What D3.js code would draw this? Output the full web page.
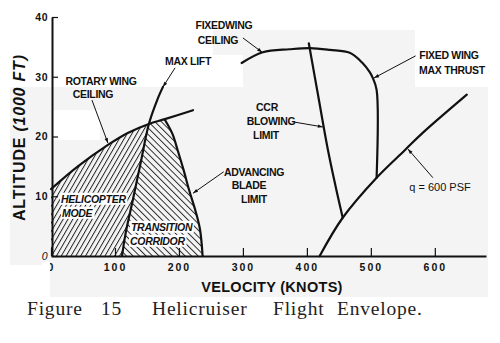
<!DOCTYPE html>
<html><head><meta charset="utf-8">
<script src="https://cdn.jsdelivr.net/npm/d3@7"></script>
<style>
html,body{margin:0;padding:0;background:#fff;}
svg{display:block;}
.lbl{font-family:"Liberation Sans",Arial,sans-serif;font-weight:bold;font-size:10.5px;letter-spacing:-0.3px;fill:#111;}
</style></head>
<body>
<svg id="c" width="500" height="343"></svg>
<script>
// ---- data (velocity in knots, altitude in 1000 ft) ----
const velTicks = [0,100,200,300,400,500,600];
const altTicks = [0,10,20,30,40];
const rotaryV   = [0,42,89,120,153,178,222];
const rotaryAlt = [11.2,15.0,18.6,20.6,22.1,22.9,24.4];
const maxLiftV   = [111,117,128,140,153,166,175];
const maxLiftAlt = [0,4,9.4,15.5,22.1,26.1,28.3];
const bladeV   = [178,190,198,207,216,226,233,237];
const bladeAlt = [22.8,20.4,17.7,14.5,11,7.5,4.4,0];
const fixedV   = [298,331,373,405,436,467,487,498,503,509,509];
const fixedAlt = [32.3,34.1,34.6,34.8,34.5,34.0,32.3,30.8,29.8,27.8,13.1];
const ccrV   = [403,418,433,445,456];
const ccrAlt = [35.6,26.6,17.7,11.6,6.4];
const qV   = [420,456,509,553,581,650];
const qAlt = [0,6.4,13.1,17.7,20.6,27];

const svg = d3.select("#c");
const x = d3.scaleLinear().domain([0,680]).range([51,486]);
const y = d3.scaleLinear().domain([0,40]).range([256,17]);
const pts = (vs, as) => vs.map((v,i)=>[v, as[i]]);
const line = d3.line().x(d=>x(d[0])).y(d=>y(d[1])).curve(d3.curveCatmullRom.alpha(0.5));

// ---- scanned-paper background tones ----
const G = "#f4f4f4";
const bg = svg.append("g");
bg.append("rect").attr("x",50).attr("y",87).attr("width",438).attr("height",210).attr("fill",G);
bg.append("rect").attr("x",10).attr("y",87).attr("width",40).attr("height",178).attr("fill",G);
bg.append("rect").attr("x",213).attr("y",30).attr("width",202).attr("height",57).attr("fill",G);
bg.append("rect").attr("x",213).attr("y",55).attr("width",30).attr("height",32).attr("fill","#fff");
bg.append("rect").attr("x",53).attr("y",110).attr("width",47).attr("height",30).attr("fill","#fff");

// ---- patterns & markers ----
const defs = svg.append("defs");
const pA = defs.append("pattern").attr("id","hatchA").attr("patternUnits","userSpaceOnUse")
  .attr("width",4.2).attr("height",10).attr("patternTransform","rotate(30)");
pA.append("line").attr("x1",0.5).attr("x2",0.5).attr("y1",0).attr("y2",10).attr("stroke","#111").attr("stroke-width",0.9);
const pB = defs.append("pattern").attr("id","hatchB").attr("patternUnits","userSpaceOnUse")
  .attr("width",4.6).attr("height",10).attr("patternTransform","rotate(-45)");
pB.append("line").attr("x1",0.5).attr("x2",0.5).attr("y1",0).attr("y2",10).attr("stroke","#111").attr("stroke-width",0.9);
defs.append("marker").attr("id","arr").attr("viewBox","0 0 10 10").attr("refX",10).attr("refY",5)
  .attr("markerWidth",7).attr("markerHeight",5).attr("orient","auto").attr("markerUnits","userSpaceOnUse")
  .append("path").attr("d","M0,1.5L10,5L0,8.5Z").attr("fill","#111");

// ---- hatched regions ----
const rotary = pts(rotaryV, rotaryAlt);
const maxLift = pts(maxLiftV, maxLiftAlt);
const blade = pts(bladeV, bladeAlt);
const rotLow = rotary.filter(d=>d[0]<=153);
const rotMid = rotary.filter(d=>d[0]>=153 && d[0]<=178);
const liftLow = maxLift.filter(d=>d[0]<=153);
const join = (...segs) => segs.map((s,i)=> i===0 ? s : s.replace(/^M/,"L")).join("") + "Z";
const heliPath = join(`M${x(0)},${y(0)}`, line(rotLow), line(liftLow.slice().reverse()));
const corrPath = join(line(liftLow), line(rotMid), line(blade));
svg.append("path").attr("d",heliPath).attr("fill","url(#hatchA)");
svg.append("path").attr("d",corrPath).attr("fill","url(#hatchB)");

// ---- curves ----
const curves = [rotary, maxLift, blade, pts(fixedV,fixedAlt), pts(ccrV,ccrAlt), pts(qV,qAlt)];
svg.append("g").selectAll("path").data(curves).join("path")
  .attr("d",line).attr("fill","none").attr("stroke","#111").attr("stroke-width",2.2)
  .attr("stroke-linejoin","round").attr("stroke-linecap","round");

// ---- axes ----
const xAxis = svg.append("g").attr("transform",`translate(0,${y(0)})`)
  .call(d3.axisBottom(x).tickValues(velTicks).tickSize(-8).tickSizeOuter(0).tickPadding(8));
xAxis.select(".domain").attr("stroke","#111").attr("stroke-width",2);
xAxis.selectAll(".tick line").attr("stroke","#111").attr("stroke-width",1.2);
xAxis.selectAll(".tick text").attr("font-family","Liberation Sans, Arial, sans-serif")
  .attr("font-weight","bold").attr("font-size",10.5).attr("letter-spacing","2px").attr("fill","#111");
const yAxis = svg.append("g").attr("transform",`translate(${x(0)+1},0)`)
  .call(d3.axisLeft(y).tickValues(altTicks).tickSize(-6).tickSizeOuter(0).tickPadding(4));
yAxis.select(".domain").attr("stroke","#111").attr("stroke-width",2);
yAxis.selectAll(".tick line").attr("stroke","#111").attr("stroke-width",1.2);
yAxis.selectAll(".tick text").attr("font-family","Liberation Sans, Arial, sans-serif")
  .attr("font-size",10.5).attr("letter-spacing","0.5px").attr("fill","#111")
  .attr("font-style",d=>d===0?"italic":"normal").attr("font-weight",d=>d===0?"normal":"bold");
// scan clipped the x-origin label's left half
svg.append("rect").attr("x",42).attr("y",262).attr("width",8).attr("height",14).attr("fill","#fff");

// axis titles
svg.append("text").attr("x",272).attr("y",292).attr("text-anchor","middle")
  .attr("font-family","Liberation Sans, Arial, sans-serif").attr("font-weight","bold")
  .attr("font-size",14.5).attr("letter-spacing","0.3px").attr("fill","#111").text("VELOCITY  (KNOTS)");
const yt = svg.append("text").attr("transform","translate(19,138) rotate(-90)").attr("text-anchor","middle")
  .attr("dy","0.36em").attr("font-family","Liberation Sans, Arial, sans-serif").attr("font-weight","bold")
  .attr("font-size",16).attr("fill","#111").attr("textLength",166).attr("lengthAdjust","spacing");
yt.append("tspan").text("ALTITUDE ");
yt.append("tspan").attr("font-style","italic").text("(1000 FT)");

// ---- annotations ----
const labels = [
  {t:["FIXEDWING","CEILING"], x:[224,218], y:[25,40]},
  {t:["MAX LIFT"], x:[188], y:[61]},
  {t:["ROTARY WING","CEILING"], x:[101,93], y:[81,94]},
  {t:["FIXED WING","MAX THRUST"], x:[449,452], y:[55,70]},
  {t:["CCR","BLOWING","LIMIT"], x:[267,271,266], y:[107,121,135]},
  {t:["ADVANCING","BLADE","LIMIT"], x:[254,249,254], y:[172,185,199]},
];
labels.forEach(l=>l.t.forEach((s,i)=>{
  svg.append("text").attr("class","lbl").attr("x",l.x[i]).attr("y",l.y[i]).attr("dy","0.36em")
    .attr("text-anchor","middle").text(s);
}));
svg.append("text").attr("x",440).attr("y",187).attr("dy","0.36em").attr("text-anchor","middle")
  .attr("font-family","Liberation Sans, Arial, sans-serif").attr("font-size",11).attr("fill","#111").text("q = 600 PSF");

// labels inside hatched regions (white behind)
const inner = [
  {s:"HELICOPTER", x:61, y:199},{s:"MODE", x:62, y:213},
  {s:"TRANSITION", x:131, y:227},{s:"CORRIDOR", x:130, y:241}];
inner.forEach(d=>{
  const t = svg.append("text").attr("class","lbl").attr("x",d.x).attr("y",d.y).attr("dy","0.36em")
    .attr("font-style","italic").text(d.s);
  const b = t.node().getBBox();
  svg.insert("rect", () => t.node()).attr("x",b.x-1).attr("y",b.y).attr("width",b.width+2).attr("height",b.height).attr("fill","#fff");
});

// leader lines (data coordinates) with arrowheads
const leaders = [
  [[64,26.1],[89,18.9]], [[194,31.5],[175,28.3]], [[300,36.5],[330,34.1]],
  [[570,33.5],[505,29.8]], [[381,22.4],[425,21.6]], [[270,14.1],[222,10.5]], [[597,13.1],[558,17.9]]];
svg.append("g").selectAll("line").data(leaders).join("line")
  .attr("x1",d=>x(d[0][0])).attr("y1",d=>y(d[0][1])).attr("x2",d=>x(d[1][0])).attr("y2",d=>y(d[1][1]))
  .attr("stroke","#111").attr("stroke-width",1).attr("marker-end","url(#arr)");

// ---- caption ----
const cap = svg.append("text").attr("y",315).attr("font-family","Liberation Serif, Times New Roman, serif")
  .attr("font-size",19.5).attr("letter-spacing","0.8px").attr("fill","#222");
[["Figure",27],["15",101],["Helicruiser",152],["Flight",273],["Envelope.",337]].forEach(w=>{
  cap.append("tspan").attr("x",w[1]).text(w[0]);
});
</script>
</body></html>
